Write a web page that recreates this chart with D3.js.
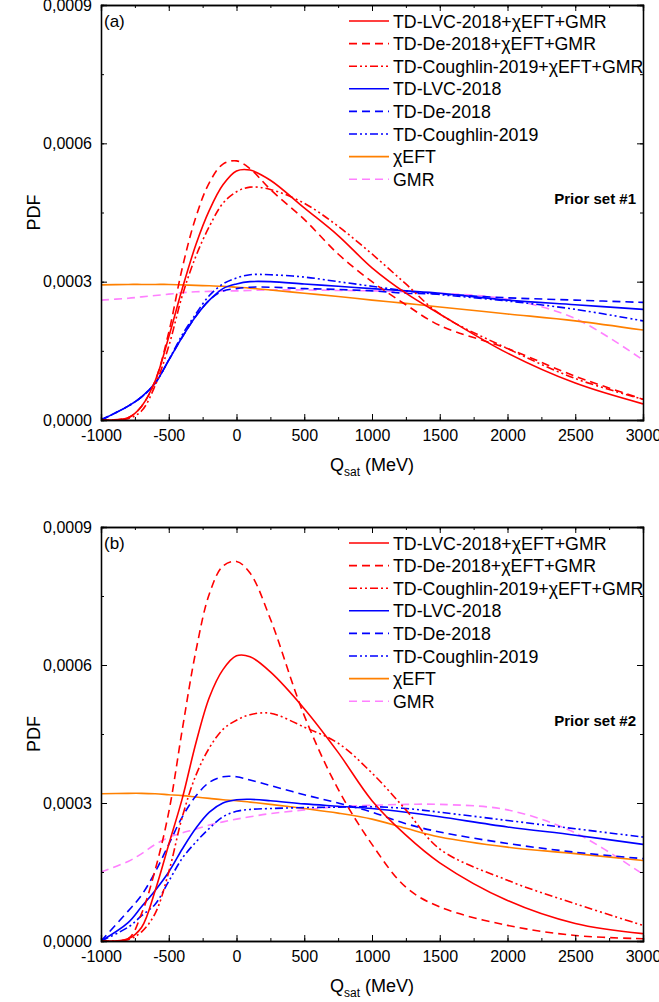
<!DOCTYPE html>
<html>
<head>
<meta charset="utf-8">
<script src="https://cdn.jsdelivr.net/npm/d3@7"></script>
<style>
body { margin: 0; background: #fff; }
text { font-family: Arial, "Liberation Sans", sans-serif; fill: #000; }
</style>
</head>
<body>
<svg width="659" height="1002"></svg>
<script>
// Q_sat grid (MeV), PDF values in units of 1e-4
var qsat = [-1000,-800,-700,-600,-500,-400,-300,-200,-100,0,100,250,500,750,1000,1250,1500,2000,2500,3000];

var seriesNames = ["TD-LVC-2018+\u03c7EFT+GMR","TD-De-2018+\u03c7EFT+GMR","TD-Coughlin-2019+\u03c7EFT+GMR",
  "TD-LVC-2018","TD-De-2018","TD-Coughlin-2019","\u03c7EFT","GMR"];
var seriesColors = ["#ff0000","#ff0000","#ff0000","#0000ff","#0000ff","#0000ff","#ff8000","#ff80ff"];
var seriesDash = ["none","8,5","8,3,2,3,2,3","none","8,5","8,3,2,3,2,3","none","8,5"];

// panel (a), prior set #1
var a_lvcAll  = [0,0.05,0.3,0.85,1.8,2.85,3.8,4.55,5.1,5.4,5.42,5.2,4.6,4.0,3.3,2.75,2.3,1.45,0.8,0.35];
var a_deAll   = [0,0.05,0.3,0.85,1.9,3.3,4.4,5.15,5.55,5.62,5.45,5.0,4.35,3.6,3.0,2.5,2.05,1.55,0.95,0.45];
var a_coAll   = [0,0.03,0.2,0.75,1.6,2.7,3.55,4.2,4.7,4.95,5.05,5.0,4.7,4.2,3.6,2.95,2.3,1.55,0.9,0.45];
var a_lvc     = [0,0.3,0.5,0.8,1.3,1.8,2.25,2.6,2.85,2.95,3.0,3.0,2.95,2.9,2.85,2.8,2.75,2.6,2.5,2.4];
var a_de      = [0,0.3,0.5,0.8,1.3,1.8,2.25,2.6,2.8,2.85,2.88,2.88,2.85,2.83,2.8,2.75,2.73,2.65,2.6,2.55];
var a_co      = [0,0.3,0.5,0.8,1.3,1.85,2.3,2.7,2.95,3.08,3.15,3.15,3.1,3.0,2.9,2.8,2.72,2.58,2.4,2.15];
var a_chiEFT  = [2.93,2.94,2.94,2.94,2.94,2.93,2.92,2.91,2.9,2.88,2.86,2.82,2.75,2.68,2.6,2.53,2.45,2.3,2.15,1.95];
var a_gmr     = [2.6,2.64,2.67,2.7,2.73,2.76,2.78,2.79,2.8,2.8,2.81,2.82,2.82,2.81,2.8,2.78,2.75,2.62,2.2,1.3];

// panel (b), prior set #2
var b_lvcAll  = [0,0.05,0.3,1.1,2.1,3.1,4.3,5.3,5.9,6.2,6.18,5.85,5.05,4.1,3.05,2.3,1.7,0.88,0.38,0.16];
var b_deAll   = [0,0.05,0.6,1.55,2.8,4.6,6.3,7.55,8.15,8.25,8.0,7.0,4.9,3.3,2.1,1.17,0.74,0.34,0.12,0.05];
var b_coAll   = [0,0.03,0.2,0.6,1.5,2.7,3.6,4.2,4.6,4.8,4.92,4.95,4.65,4.3,3.65,2.85,2.0,1.32,0.81,0.34];
var b_lvc     = [0,0.4,0.75,1.1,1.5,2.0,2.45,2.8,3.0,3.07,3.08,3.05,2.98,2.93,2.88,2.8,2.7,2.48,2.3,2.1];
var b_de      = [0,0.65,1.0,1.5,2.1,2.7,3.15,3.45,3.57,3.57,3.5,3.38,3.18,3.0,2.8,2.55,2.37,2.12,1.93,1.79];
var b_co      = [0,0.3,0.55,0.8,1.3,1.8,2.15,2.45,2.7,2.82,2.86,2.88,2.9,2.91,2.92,2.88,2.8,2.62,2.44,2.26];
var b_chiEFT  = [3.2,3.21,3.21,3.2,3.18,3.16,3.13,3.1,3.07,3.05,3.02,2.97,2.88,2.78,2.65,2.45,2.26,2.04,1.9,1.75];
var b_gmr     = [1.5,1.73,1.9,2.1,2.25,2.35,2.43,2.52,2.59,2.65,2.7,2.77,2.85,2.92,2.95,2.97,2.97,2.85,2.35,1.45];

var xTicks = [-1000,-500,0,500,1000,1500,2000,2500,3000];
var yTicks = [0,0.0003,0.0006,0.0009];
var yTickLabels = ["0,0000","0,0003","0,0006","0,0009"];

var panels = [
  {tag:"(a)", prior:"Prior set #1", top:5, bottom:420, legendTop:21, series:[a_lvcAll,a_deAll,a_coAll,a_lvc,a_de,a_co,a_chiEFT,a_gmr]},
  {tag:"(b)", prior:"Prior set #2", top:527, bottom:941, legendTop:543, series:[b_lvcAll,b_deAll,b_coAll,b_lvc,b_de,b_co,b_chiEFT,b_gmr]}
];

var svg = d3.select("svg");
var left = 101, right = 643;
var x = d3.scaleLinear().domain([-1000,3000]).range([left,right]);

panels.forEach(function(p) {
  var y = d3.scaleLinear().domain([0,0.0009]).range([p.bottom,p.top]);
  var g = svg.append("g");

  var clipId = "clip" + p.tag.charAt(1);
  g.append("clipPath").attr("id", clipId).append("rect")
    .attr("x", left).attr("y", p.top).attr("width", right-left).attr("height", p.bottom-p.top);

  var line = d3.line()
    .x(function(d, i) { return x(qsat[i]); })
    .y(function(d) { return y(d * 1e-4); })
    .curve(d3.curveCatmullRom.alpha(0.5));

  // draw in reverse so red lies on top
  for (var k = p.series.length - 1; k >= 0; k--) {
    g.append("path")
      .attr("clip-path", "url(#" + clipId + ")")
      .attr("d", line(p.series[k]))
      .attr("fill", "none")
      .attr("stroke", seriesColors[k])
      .attr("stroke-width", 1.6)
      .attr("stroke-dasharray", seriesDash[k]);
  }

  // axes, ticks inside
  var minorX = d3.range(-1000, 3001, 250);
  var minorY = d3.range(0, 0.00091, 0.00015);
  g.append("g").attr("transform", "translate(0," + p.bottom + ")")
    .call(d3.axisBottom(x).tickValues(minorX).tickSize(-3).tickFormat(""));
  g.append("g").attr("transform", "translate(0," + p.bottom + ")")
    .call(d3.axisBottom(x).tickValues(xTicks).tickSize(-6).tickPadding(10).tickFormat(function(d) { return String(d); }));
  g.append("g").attr("transform", "translate(0," + p.top + ")")
    .call(d3.axisTop(x).tickValues(minorX).tickSize(-3).tickFormat(""));
  g.append("g").attr("transform", "translate(0," + p.top + ")")
    .call(d3.axisTop(x).tickValues(xTicks).tickSize(-6).tickFormat(""));
  g.append("g").attr("transform", "translate(" + left + ",0)")
    .call(d3.axisLeft(y).tickValues(minorY).tickSize(-3).tickFormat(""));
  g.append("g").attr("transform", "translate(" + left + ",0)")
    .call(d3.axisLeft(y).tickValues(yTicks).tickSize(-6).tickPadding(9)
      .tickFormat(function(d, i) { return yTickLabels[i]; }));
  g.append("g").attr("transform", "translate(" + right + ",0)")
    .call(d3.axisRight(y).tickValues(minorY).tickSize(-3).tickFormat(""));
  g.append("g").attr("transform", "translate(" + right + ",0)")
    .call(d3.axisRight(y).tickValues(yTicks).tickSize(-6).tickFormat(""));
  g.selectAll(".domain").attr("stroke", "#000").attr("stroke-width", 1.3);
  g.selectAll(".tick line").attr("stroke", "#000");
  g.selectAll(".tick text").style("font-size", "16px").style("font-family", "Arial, 'Liberation Sans', sans-serif");

  g.append("text").attr("x", 104).attr("y", p.top + 22).style("font-size", "17px").text(p.tag);

  // legend
  seriesNames.forEach(function(name, k) {
    var ly = p.legendTop + k * 22.6;
    g.append("line").attr("x1", 349).attr("x2", 389).attr("y1", ly).attr("y2", ly)
      .attr("stroke", seriesColors[k]).attr("stroke-width", 1.6).attr("stroke-dasharray", seriesDash[k]);
    g.append("text").attr("x", 393).attr("y", ly + 6.5).style("font-size", "17.8px").text(name);
  });
  g.append("text").attr("x", 636).attr("y", p.legendTop + 183).attr("text-anchor", "end")
    .style("font-size", "15px").style("font-weight", "bold").text(p.prior);

  // axis titles
  g.append("text").attr("transform", "translate(40," + ((p.top + p.bottom) / 2) + ") rotate(-90)")
    .attr("text-anchor", "middle").style("font-size", "18px").text("PDF");
  var t = g.append("text").attr("x", 372).attr("y", p.bottom + 51).attr("text-anchor", "middle").style("font-size", "18px");
  t.append("tspan").text("Q");
  t.append("tspan").attr("dy", 5).style("font-size", "12px").text("sat");
  t.append("tspan").attr("dy", -5).text(" (MeV)");
});
</script>
</body>
</html>
